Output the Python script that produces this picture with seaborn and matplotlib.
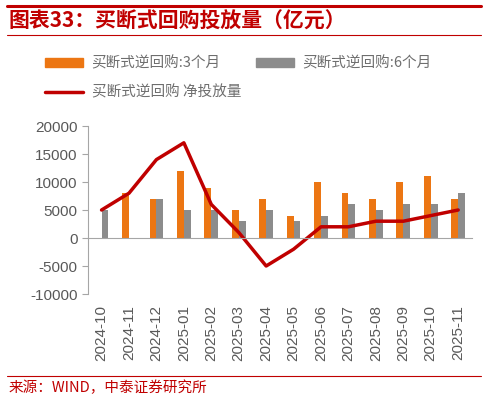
import numpy as np
import pandas as pd
import matplotlib
matplotlib.use('Agg')
import matplotlib.pyplot as plt
import seaborn as sns
from matplotlib.patches import Patch
from matplotlib.lines import Line2D

months = ['2024-10', '2024-11', '2024-12', '2025-01', '2025-02', '2025-03', '2025-04',
          '2025-05', '2025-06', '2025-07', '2025-08', '2025-09', '2025-10', '2025-11']
repo_3m = [0, 8000, 7000, 12000, 9000, 5000, 7000, 4000, 10000, 8000, 7000, 10000, 11000, 7000]
repo_6m = [5000, 0, 7000, 5000, 5000, 3000, 5000, 3000, 4000, 6000, 5000, 6000, 6000, 8000]
net_injection = [5000, 8000, 14000, 17000, 6000, 1000, -5000, -2000, 2000, 2000, 3000, 3000, 4000, 5000]

label_3m = '买断式逆回购:3个月'
label_6m = '买断式逆回购:6个月'
label_net = '买断式逆回购 净投放量'

orange = '#EC7613'
gray = '#8C8C8C'
red = '#C00000'
text_gray = '#595959'

sns.set_style('white')
plt.rcParams['font.family'] = ['Liberation Sans', 'Noto Sans CJK SC', 'DejaVu Sans']
plt.rcParams['axes.unicode_minus'] = False

df = pd.DataFrame({'month': months * 2,
                   'value': repo_3m + repo_6m,
                   'series': [label_3m] * len(months) + [label_6m] * len(months)})

fig = plt.figure(figsize=(4.88, 4.0), dpi=100)
ax = fig.add_axes([0.180, 0.265, 0.787, 0.42])

sns.barplot(data=df, x='month', y='value', hue='series', palette=[orange, gray],
            width=0.5, saturation=1, legend=False, linewidth=0, ax=ax)
sns.lineplot(x=np.arange(len(months)), y=net_injection, color=red, linewidth=2.5, ax=ax)

ax.set_xlim(-0.5, len(months) - 0.5)
ax.set_ylim(-10000, 20000)
ax.set_yticks(np.arange(-10000, 20001, 5000))
ax.set_xlabel('')
ax.set_ylabel('')

for s in ['top', 'right']:
    ax.spines[s].set_visible(False)
ax.spines['left'].set_color('#A6A6A6')
ax.spines['bottom'].set_color('#A6A6A6')
ax.spines['bottom'].set_position(('data', 0))

ax.set_xticks(np.arange(len(months)))
ax.set_xticklabels(months, rotation=90)
ax.set_xticks(np.arange(-0.5, len(months)), minor=True)
ax.tick_params(axis='x', which='major', length=0, pad=48, labelsize=11, colors=text_gray)
ax.tick_params(axis='x', which='minor', length=5, direction='out', color='#A6A6A6')
ax.tick_params(axis='y', length=4, direction='out', color='#A6A6A6', labelsize=11,
               labelcolor=text_gray, left=True)

handles = [Patch(color=orange, label=label_3m),
           Line2D([], [], color=red, linewidth=2.5, label=label_net),
           Patch(color=gray, label=label_6m)]
leg = fig.legend(handles=handles, loc='upper left', bbox_to_anchor=(0.065, 0.893),
                 ncol=2, frameon=False, handlelength=2.6, handleheight=0.55,
                 labelspacing=1.0, columnspacing=1.0, handletextpad=0.6,
                 prop={'family': ['Noto Sans CJK SC'], 'size': 10.5})
for t in leg.get_texts():
    t.set_color('#6E6E6E')

# header / footer decoration
fig.add_artist(Line2D([0.015, 0.985], [0.985, 0.985], color=red, linewidth=2.2,
                      transform=fig.transFigure))
fig.add_artist(Line2D([0.015, 0.985], [0.912, 0.912], color=red, linewidth=0.8,
                      transform=fig.transFigure))
fig.add_artist(Line2D([0.015, 0.985], [0.06, 0.06], color=red, linewidth=0.8,
                      transform=fig.transFigure))
fig.text(0.017, 0.948, '图表33：买断式回购投放量（亿元）', color=red, fontsize=15,
         fontweight='bold', fontstyle='italic', va='center',
         family=['Noto Sans CJK SC', 'DejaVu Sans'])
fig.text(0.017, 0.03, '来源：WIND，中泰证券研究所', color=red, fontsize=10.5, va='center',
         family=['Noto Sans CJK SC', 'DejaVu Sans'])

fig.savefig('out.png', dpi=100)
